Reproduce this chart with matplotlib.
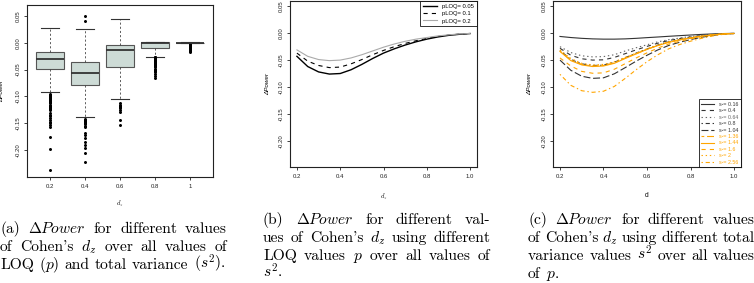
import matplotlib.pyplot as plt

plt.rcParams['font.family'] = 'Liberation Sans'
plt.rcParams['axes.unicode_minus'] = False
plt.rcParams['lines.scale_dashes'] = False
plt.rcParams['mathtext.fontset'] = 'cm'

W, H = 754, 283
ORANGE = '#ffa500'

# (a) boxplot stats for each d_z
dz_labels = ['0.2', '0.4', '0.6', '0.8', '1']
box_q1 = [-0.048, -0.079, -0.045, -0.0105, -0.0008]
box_med = [-0.030, -0.0556, -0.014, -0.0006, 0.0]
box_q3 = [-0.0167, -0.036, -0.005, 0.001, 0.0003]
box_lo = [-0.092, -0.139, -0.104, -0.026, -0.0015]
box_hi = [0.0265, 0.025, 0.044, 0.002, 0.0008]
box_out = [
    [-0.096, -0.098, -0.100, -0.101, -0.103, -0.104, -0.106, -0.108, -0.110,
     -0.111, -0.113, -0.115, -0.117, -0.119, -0.120, -0.122, -0.124, -0.126,
     -0.131, -0.134, -0.137, -0.140, -0.143, -0.147, -0.150, -0.153, -0.157,
     -0.176, -0.198, -0.236],
    [0.050, 0.041, -0.141, -0.143, -0.145, -0.147, -0.150, -0.152, -0.155,
     -0.157, -0.167, -0.172, -0.177, -0.184, -0.190, -0.196, -0.205, -0.222],
    [-0.112, -0.115, -0.118, -0.120, -0.122, -0.125, -0.128, -0.143, -0.153],
    [-0.026, -0.027, -0.028, -0.029, -0.030, -0.031, -0.032, -0.033, -0.034,
     -0.035, -0.036, -0.038, -0.040, -0.041, -0.043, -0.045, -0.048, -0.050,
     -0.053, -0.055, -0.058, -0.062, -0.066],
    [-0.002, -0.003, -0.004, -0.005, -0.006, -0.007, -0.008, -0.009, -0.010,
     -0.011, -0.012, -0.013, -0.014, -0.016, -0.018],
]

# (b) and (c) curves over d
d_grid = [0.2, 0.25, 0.3, 0.35, 0.4, 0.45, 0.5, 0.55, 0.6, 0.65, 0.7, 0.75,
          0.8, 0.85, 0.9, 0.95, 1.0]

ploq_labels = ['pLOQ= 0.05', 'pLOQ= 0.1', 'pLOQ= 0.2']
ploq_005 = [-0.043, -0.062, -0.072, -0.076, -0.075, -0.068, -0.058, -0.047, -0.037,
            -0.029, -0.022, -0.016, -0.011, -0.007, -0.004, -0.002, -0.0006]
ploq_01 = [-0.037, -0.052, -0.060, -0.064, -0.063, -0.057, -0.049, -0.040, -0.032,
           -0.025, -0.019, -0.014, -0.0095, -0.006, -0.0035, -0.0017, -0.0005]
ploq_02 = [-0.031, -0.043, -0.049, -0.051, -0.050, -0.046, -0.040, -0.033, -0.026,
           -0.020, -0.015, -0.011, -0.008, -0.005, -0.003, -0.0013, -0.0004]

s2_labels = ['s²= 0.16', 's²= 0.4', 's²= 0.64', 's²= 0.8', 's²= 1.04',
             's²= 1.36', 's²= 1.44', 's²= 1.6', 's²= 2', 's²= 2.56']
s2_016 = [-0.006, -0.008, -0.0095, -0.0105, -0.011, -0.011, -0.0105, -0.0095, -0.0082,
          -0.007, -0.0057, -0.0045, -0.0033, -0.0022, -0.0013, -0.0006, -0.0002]
s2_04 = [-0.028, -0.041, -0.0475, -0.050, -0.0495, -0.045, -0.038, -0.031, -0.0245,
         -0.0185, -0.0135, -0.010, -0.007, -0.0045, -0.0025, -0.001, -0.0003]
s2_064 = [-0.025, -0.036, -0.042, -0.044, -0.0435, -0.040, -0.033, -0.027, -0.0215,
          -0.016, -0.012, -0.009, -0.006, -0.004, -0.002, -0.001, -0.0003]
s2_08 = [-0.032, -0.049, -0.057, -0.060, -0.0595, -0.054, -0.0455, -0.037, -0.0295,
         -0.022, -0.016, -0.012, -0.0085, -0.0055, -0.003, -0.0012, -0.0004]
s2_104 = [-0.050, -0.069, -0.080, -0.084, -0.083, -0.0755, -0.064, -0.052, -0.041,
          -0.031, -0.0227, -0.0168, -0.0118, -0.0076, -0.0042, -0.0017, -0.0006]
s2_136 = [-0.033, -0.050, -0.058, -0.061, -0.060, -0.055, -0.046, -0.038, -0.030,
          -0.0225, -0.0165, -0.012, -0.0085, -0.0055, -0.003, -0.0012, -0.0004]
s2_144 = [-0.034, -0.051, -0.059, -0.062, -0.061, -0.056, -0.047, -0.0385, -0.030,
          -0.023, -0.017, -0.0125, -0.0087, -0.0056, -0.003, -0.0012, -0.0004]
s2_16 = [-0.046, -0.061, -0.071, -0.0745, -0.0738, -0.067, -0.0566, -0.046, -0.0365,
         -0.0276, -0.020, -0.015, -0.0104, -0.0067, -0.0037, -0.0015, -0.0005]
s2_2 = [-0.031, -0.047, -0.056, -0.059, -0.058, -0.053, -0.045, -0.037, -0.029,
        -0.022, -0.016, -0.0118, -0.0082, -0.0053, -0.0029, -0.0012, -0.0004]
s2_256 = [-0.0765, -0.097, -0.107, -0.110, -0.108, -0.099, -0.084, -0.068, -0.053,
          -0.040, -0.029, -0.021, -0.0148, -0.0095, -0.0052, -0.002, -0.0007]

y_ticks = [-0.20, -0.15, -0.10, -0.05, 0.00, 0.05]
y_tick_labels = ['-0.20', '-0.15', '-0.10', '-0.05', '0.00', '0.05']
d_ticks = [0.2, 0.4, 0.6, 0.8, 1.0]
d_tick_labels = ['0.2', '0.4', '0.6', '0.8', '1.0']

# R line types
solid = '-'
dashed = (0, (3, 3))
dotted = (0, (1, 2))
dotdash = (0, (1, 2, 3, 2))
longdash = (0, (5, 2))
twodash = (0, (2, 2, 5, 2))


def r_style(ax, ylabel, ylab_x, xlabel, xlab_y):
    for s in ax.spines.values():
        s.set_linewidth(0.8)
        s.set_color('#222222')
    ax.tick_params(length=2.2, width=0.6, labelsize=4.3, pad=2.5, colors='#222222')
    ax.set_yticks(y_ticks)
    ax.set_yticklabels(y_tick_labels, rotation=90, va='center')
    ax.set_ylabel(ylabel, fontsize=4.5, style='italic')
    ax.yaxis.set_label_coords(ylab_x, 0.5)
    ax.set_xlabel(xlabel, fontsize=4.8)
    ax.xaxis.set_label_coords(0.5, xlab_y)


def r_legend(ax, loc, size, spacing, colors=None):
    kw = {} if colors is None else {'labelcolor': colors}
    leg = ax.legend(loc=loc, fontsize=size, frameon=True, fancybox=False,
                    borderaxespad=0, handlelength=2.4, handletextpad=1.0,
                    labelspacing=spacing, borderpad=0.45, **kw)
    leg.get_frame().set_edgecolor('black')
    leg.get_frame().set_linewidth(0.7)


fig = plt.figure(figsize=(W / 100, H / 100), dpi=100)

# (a)
ax1 = fig.add_axes([27 / W, 1 - 177 / H, 186 / W, 172 / H])
stats = []
for i in range(len(dz_labels)):
    stats.append({'q1': box_q1[i], 'med': box_med[i], 'q3': box_q3[i],
                  'whislo': box_lo[i], 'whishi': box_hi[i], 'fliers': box_out[i]})
ax1.bxp(stats, positions=range(1, 6), widths=0.8, capwidths=0.5, patch_artist=True,
        boxprops=dict(facecolor='#cddbd6', edgecolor='#555555', linewidth=0.8),
        medianprops=dict(color='#333333', linewidth=1.3),
        whiskerprops=dict(color='#444444', linewidth=0.6, linestyle=(0, (1.5, 1.5))),
        capprops=dict(color='#333333', linewidth=0.8),
        flierprops=dict(marker='o', markersize=1.15, markerfacecolor='black',
                        markeredgecolor='black', linestyle='none'))
ax1.set_xlim(0.34, 5.66)
ax1.set_ylim(-0.2496, 0.070)
ax1.set_xticks(range(1, 6))
ax1.set_xticklabels(dz_labels)
r_style(ax1, 'ΔPower', -0.124, r'$d_z$', -0.128)

# (b)
ax2 = fig.add_axes([290 / W, 1 - 167 / H, 187 / W, 166 / H])
ax2.plot(d_grid, ploq_005, color='black', linestyle=solid, linewidth=1.0, label=ploq_labels[0])
ax2.plot(d_grid, ploq_01, color='black', linestyle=dashed, linewidth=0.8, label=ploq_labels[1])
ax2.plot(d_grid, ploq_02, color='#aaaaaa', linestyle=solid, linewidth=0.8, label=ploq_labels[2])
ax2.set_xlim(0.168, 1.032)
ax2.set_ylim(-0.249, 0.060)
ax2.set_xticks(d_ticks)
ax2.set_xticklabels(d_tick_labels)
r_style(ax2, 'ΔPower', -0.107, r'$d_z$', -0.15)
r_legend(ax2, 'upper right', 4.2, 0.4)

# (c)
ax3 = fig.add_axes([553 / W, 1 - 167 / H, 188 / W, 166 / H])
s2_curves = [s2_016, s2_04, s2_064, s2_08, s2_104, s2_136, s2_144, s2_16, s2_2, s2_256]
s2_styles = [solid, dashed, dotted, dotdash, longdash, twodash, solid, dashed, dotted, dotdash]
s2_colors = ['#333333', '#333333', '#666666', '#333333', '#333333',
             ORANGE, ORANGE, ORANGE, ORANGE, ORANGE]
for vals, ls, c, lab in zip(s2_curves, s2_styles, s2_colors, s2_labels):
    ax3.plot(d_grid, vals, color=c, linestyle=ls, linewidth=0.8, label=lab)
ax3.set_xlim(0.168, 1.032)
ax3.set_ylim(-0.249, 0.060)
ax3.set_xticks(d_ticks)
ax3.set_xticklabels(d_tick_labels)
r_style(ax3, 'ΔPower', -0.112, 'd', -0.15)
r_legend(ax3, 'lower right', 3.8, 0.27, s2_colors)


# captions, justified word by word like LaTeX
def caption(lines, x0, y0, width=227, step=18, size=11.2):
    r = fig.canvas.get_renderer()
    for i, words in enumerate(lines):
        y = 1 - (y0 + i * step) / H
        texts = [fig.text(0, y, w, fontsize=size, family='cmr10', va='baseline')
                 for w in words]
        widths = [t.get_window_extent(r).width for t in texts]
        if i == len(lines) - 1 or len(words) == 1:
            gap = 5.2
        else:
            gap = (width - sum(widths)) / (len(words) - 1)
        x = x0
        for t, w in zip(texts, widths):
            t.set_x(x / W)
            x += w + gap


caption([['(a)', r'$\Delta Power$', 'for', 'different', 'values'],
         ['of', "Cohen's", r'$d_z$', 'over', 'all', 'values', 'of'],
         ['LOQ', r'$(p)$', 'and', 'total', 'variance', r'$(s^2)$.']], 0, 233)
caption([['(b)', r'$\Delta Power$', 'for', 'different', 'val-'],
         ['ues', 'of', "Cohen's", r'$d_z$', 'using', 'different'],
         ['LOQ', 'values', r'$p$', 'over', 'all', 'values', 'of'],
         [r'$s^2$.']], 263, 224)
caption([['(c)', r'$\Delta Power$', 'for', 'different', 'values'],
         ['of', "Cohen's", r'$d_z$', 'using', 'different', 'total'],
         ['variance', 'values', r'$s^2$', 'over', 'all', 'values'],
         ['of', r'$p$.']], 528, 224)

fig.savefig('out.png', dpi=100)
